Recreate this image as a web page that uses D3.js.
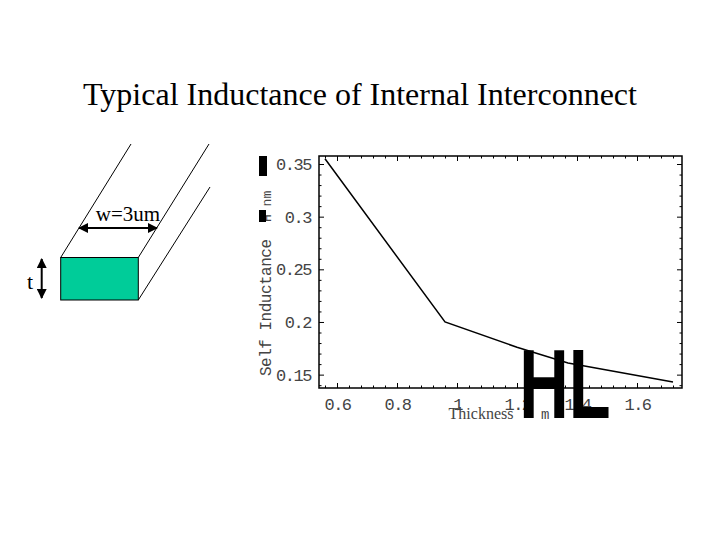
<!DOCTYPE html><html><head><meta charset="utf-8"><script src="https://cdn.jsdelivr.net/npm/d3@7"></script>
<style>body{margin:0;background:#fff}</style></head><body><svg id="c" width="720" height="540"></svg>
<script>
const thickness=[0.56,0.96,1.2,1.37,1.72];
const inductance=[0.355,0.2,0.176,0.161,0.143];
const xTicks=[0.6,0.8,1,1.2,1.4,1.6];
const yTicks=[0.15,0.2,0.25,0.3,0.35];
const svg=d3.select("#c");
svg.append("text").attr("x",360).attr("y",105).attr("text-anchor","middle").attr("font-family","Liberation Serif").attr("font-size",32).text("Typical Inductance of Internal Interconnect");
const g=svg.append("g").attr("stroke","#000").attr("fill","none");
svg.append("defs").append("marker").attr("id","ah").attr("viewBox","0 0 10 10").attr("refX",9).attr("refY",5).attr("markerWidth",5).attr("markerHeight",5).attr("orient","auto-start-reverse").append("path").attr("d","M0,0L10,5L0,10z").attr("fill","#000");
g.append("rect").attr("x",60.7).attr("y",257.5).attr("width",77.6).attr("height",42.5).attr("fill","#00cc99");
g.append("line").attr("x1",60.7).attr("y1",257.5).attr("x2",131).attr("y2",144);
g.append("line").attr("x1",138.3).attr("y1",257.5).attr("x2",209).attr("y2",144);
g.append("line").attr("x1",138.3).attr("y1",300).attr("x2",210).attr("y2",187);
g.append("line").attr("x1",79).attr("y1",228).attr("x2",157).attr("y2",228).attr("stroke-width",2).attr("marker-start","url(#ah)").attr("marker-end","url(#ah)");
g.append("line").attr("x1",41.7).attr("y1",259).attr("x2",41.7).attr("y2",298).attr("stroke-width",2).attr("marker-start","url(#ah)").attr("marker-end","url(#ah)");
svg.append("text").attr("x",128).attr("y",221).attr("text-anchor","middle").attr("font-family","Liberation Serif").attr("font-size",21).text("w=3um");
svg.append("text").attr("x",30).attr("y",289).attr("text-anchor","middle").attr("font-family","Liberation Serif").attr("font-size",22).text("t");
const L=319,R=682,T=156,B=388;
const x=d3.scaleLinear().domain([0.54,1.75]).range([L,R]);
const y=d3.scaleLinear().domain([0.1373,0.3576]).range([B,T]);
const font="Liberation Mono";
svg.append("rect").attr("x",L).attr("y",T).attr("width",R-L).attr("height",B-T).attr("fill","none").attr("stroke","#000").attr("stroke-width",1.5);
const xa=svg.append("g").attr("transform",`translate(0,${B})`).call(d3.axisBottom(x).tickValues(xTicks).tickSize(-5).tickFormat(d3.format("")));
const ya=svg.append("g").attr("transform",`translate(${L},0)`).call(d3.axisLeft(y).tickValues(yTicks).tickSize(-5).tickFormat(d3.format("")));
svg.append("g").attr("transform",`translate(0,${T})`).call(d3.axisTop(x).tickValues(xTicks).tickSize(-5).tickFormat(""));
svg.append("g").attr("transform",`translate(${R},0)`).call(d3.axisRight(y).tickValues(yTicks).tickSize(-5).tickFormat(""));
const xm=d3.range(0.56,1.75,0.04).filter(v=>!xTicks.some(t=>Math.abs(t-v)<1e-6));
const ym=d3.range(0.14,0.356,0.01).filter(v=>!yTicks.some(t=>Math.abs(t-v)<1e-6));
svg.append("g").attr("transform",`translate(0,${B})`).call(d3.axisBottom(x).tickValues(xm).tickSize(-2.5).tickFormat(""));
svg.append("g").attr("transform",`translate(0,${T})`).call(d3.axisTop(x).tickValues(xm).tickSize(-2.5).tickFormat(""));
svg.append("g").attr("transform",`translate(${L},0)`).call(d3.axisLeft(y).tickValues(ym).tickSize(-2.5).tickFormat(""));
svg.append("g").attr("transform",`translate(${R},0)`).call(d3.axisRight(y).tickValues(ym).tickSize(-2.5).tickFormat(""));
svg.selectAll(".domain").remove();
svg.selectAll(".tick text").attr("font-family",font).attr("font-size",17).attr("letter-spacing","-1.5").attr("fill","#444");
xa.selectAll(".tick text").attr("dy","1.1em");
ya.selectAll(".tick text").attr("dx","-0.3em");
svg.append("path").datum(thickness.map((t,i)=>[t,inductance[i]])).attr("d",d3.line().x(d=>x(d[0])).y(d=>y(d[1]))).attr("fill","none").attr("stroke","#000").attr("stroke-width",1.5);
svg.append("text").attr("x",481).attr("y",419).attr("text-anchor","middle").attr("font-family","Liberation Serif").attr("font-size",16).attr("fill","#444").text("Thickness");
svg.append("text").attr("x",541).attr("y",419).attr("font-family",font).attr("font-size",14).attr("fill","#444").text("m");
svg.append("text").attr("transform","translate(271,376) rotate(-90)").attr("font-family",font).attr("font-size",16).attr("letter-spacing","-0.5").attr("fill","#444").text("Self Inductance");
svg.append("text").attr("transform","translate(271,222) rotate(-90)").attr("font-family",font).attr("font-size",13).attr("fill","#444").text("H nm");
svg.append("rect").attr("x",259).attr("y",210).attr("width",7).attr("height",12).attr("fill","#000");
svg.append("rect").attr("x",259).attr("y",156).attr("width",8).attr("height",20).attr("fill","#000");
svg.append("text").attr("transform","translate(565,418) scale(0.7,1)").attr("text-anchor","middle").attr("font-family","Liberation Sans").attr("font-weight","bold").attr("font-size",98).text("HL");
</script></body></html>
